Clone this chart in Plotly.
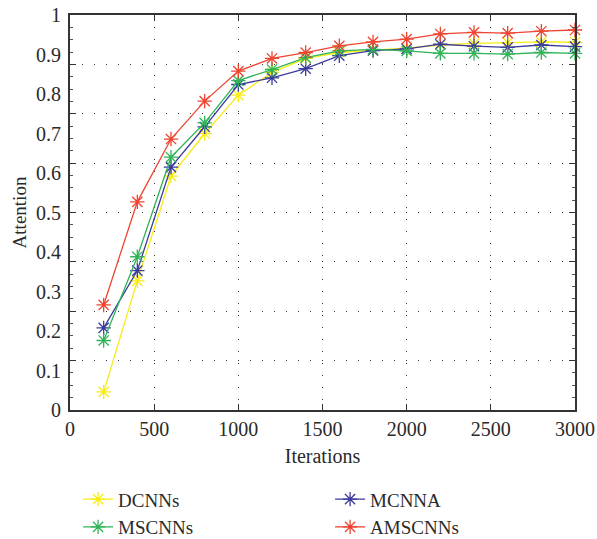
import plotly.graph_objects as go

iterations = [200, 400, 600, 800, 1000, 1200, 1400, 1600, 1800, 2000, 2200, 2400, 2600, 2800, 3000]
dcnns = [0.046, 0.327, 0.592, 0.700, 0.797, 0.855, 0.890, 0.905, 0.911, 0.916, 0.924, 0.928, 0.930, 0.932, 0.931]
mscnns = [0.176, 0.388, 0.640, 0.727, 0.834, 0.862, 0.892, 0.909, 0.913, 0.909, 0.903, 0.903, 0.901, 0.905, 0.903]
mcnna = [0.208, 0.353, 0.615, 0.717, 0.824, 0.841, 0.864, 0.897, 0.910, 0.914, 0.926, 0.921, 0.918, 0.924, 0.920]
amscnns = [0.266, 0.527, 0.686, 0.782, 0.858, 0.890, 0.905, 0.922, 0.932, 0.939, 0.952, 0.956, 0.954, 0.959, 0.962]

y_labels = [0, 0.1, 0.2, 0.3, 0.4, 0.5, 0.6, 0.7, 0.8, 0.9, 1]
grid_vals = [0.125, 0.25, 0.375, 0.5, 0.625, 0.75, 0.875]
x_ticks = [0, 500, 1000, 1500, 2000, 2500, 3000]

series = [
    ("DCNNs", dcnns, "#f7ec13"),
    ("MCNNA", mcnna, "#3b3b9c"),
    ("MSCNNs", mscnns, "#2fb457"),
    ("AMSCNNs", amscnns, "#ee4430"),
]

fig = go.Figure()
for name, vals, color in series:
    fig.add_trace(go.Scatter(
        x=iterations, y=vals, name=name, mode="lines+markers", cliponaxis=False,
        line=dict(color=color, width=1.3),
        marker=dict(symbol="asterisk-open", size=12, line=dict(color=color, width=1.3)),
    ))
# invisible trace to host the grid axis
fig.add_trace(go.Scatter(x=[0], y=[0], yaxis="y2", showlegend=False,
                         mode="markers", marker=dict(opacity=0), hoverinfo="skip"))

font = "Liberation Serif, DejaVu Serif, serif"
fig.update_layout(
    width=597, height=539,
    margin=dict(l=70, r=22, t=15, b=129, autoexpand=False),
    plot_bgcolor="white", paper_bgcolor="white",
    font=dict(family=font, size=20, color="#2a2a2a"),
    xaxis=dict(
        range=[0, 3000], tickvals=x_ticks, ticktext=[str(v) for v in x_ticks],
        showline=True, linecolor="#333", linewidth=2, mirror="ticks",
        ticks="inside", ticklen=6, tickcolor="#333",
        showgrid=True, gridcolor="#333", gridwidth=1, griddash="1px,11px",
        zeroline=False, automargin=False,
        title=dict(text="Iterations", font=dict(size=20), standoff=10),
        tickfont=dict(size=20),
    ),
    yaxis=dict(
        range=[0, 1], tickvals=y_labels, ticktext=[("%g" % v) for v in y_labels],
        showline=False, ticks="", showgrid=False, zeroline=False, automargin=False,
        ticklabelstandoff=8,
        title=dict(text="Attention", font=dict(size=19), standoff=4),
        tickfont=dict(size=20),
    ),
    yaxis2=dict(
        range=[0, 1], overlaying="y", side="left", tickvals=grid_vals,
        showticklabels=False, automargin=False,
        showline=True, linecolor="#333", linewidth=2, mirror="ticks",
        ticks="inside", ticklen=6, tickcolor="#333",
        showgrid=True, gridcolor="#333", gridwidth=1, griddash="1px,11px",
        zeroline=False,
        minor=dict(ticks="inside", ticklen=3, tickcolor="#555", dtick=0.03125, tick0=0, showgrid=False),
    ),
    legend=dict(
        orientation="h", x=0.016, xanchor="left", y=-0.178, yanchor="top",
        entrywidth=207, entrywidthmode="pixels",
        font=dict(size=19), tracegroupgap=0, itemwidth=30,
    ),
)

fig.write_html("out.html", config={"displayModeBar": False},
               post_script="document.body.style.margin='0';document.body.style.overflow='hidden';")
